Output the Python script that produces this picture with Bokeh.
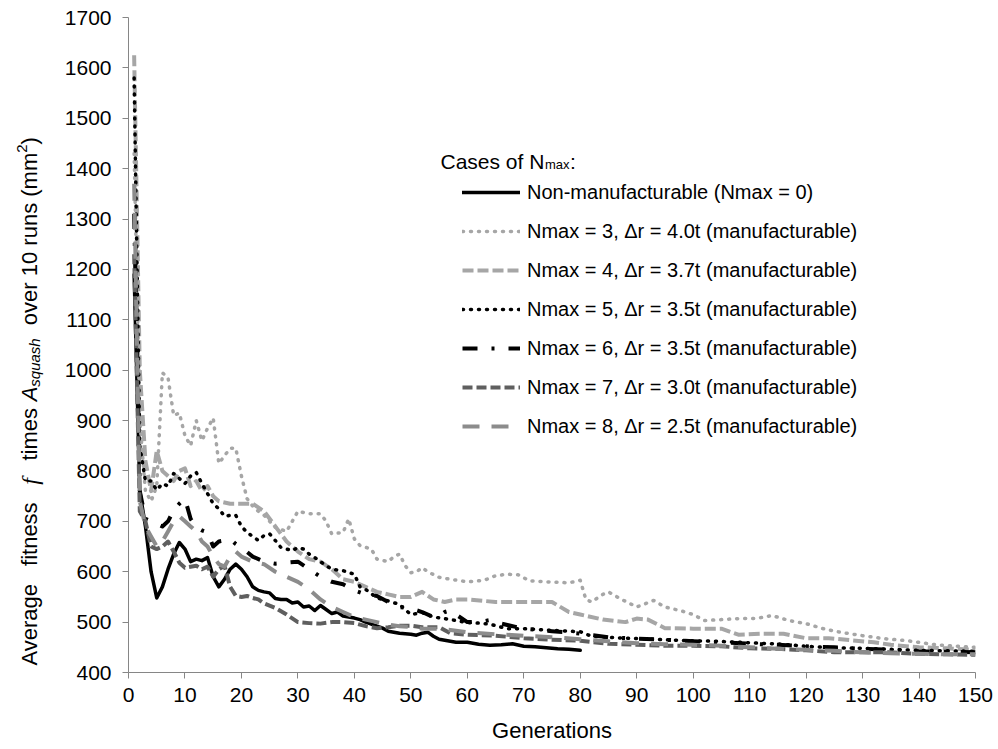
import math

from bokeh.embed import file_html
from bokeh.layouts import row
from bokeh.models import FixedTicker, Label, Legend, LegendItem, Range1d
from bokeh.plotting import figure
from bokeh.resources import INLINE

# ---- data: average fitness f * A_squash over 10 runs, per generation ----
n0_gen = [1, 2, 3, 4, 5, 6, 7, 8, 9, 10, 11, 12, 13, 14, 15, 16, 17, 18, 19, 20,
          21, 22, 23, 24, 25, 26, 27, 28, 29, 30, 31, 32, 33, 34, 35, 36, 37, 38, 39, 40,
          41, 42, 43, 44, 45, 46, 47, 48, 49, 50, 51, 52, 53, 54, 55, 56, 57, 58, 59, 60,
          62, 64, 66, 68, 70, 72, 74, 76, 78, 80]
n0_fit = [1190, 760, 690, 600, 548, 570, 605, 635, 658, 645, 620, 625, 622, 628, 590, 570, 585, 605, 615, 605,
          590, 570, 563, 560, 558, 547, 545, 545, 538, 540, 530, 532, 523, 533, 525, 517, 520, 512, 510, 508,
          505, 500, 496, 492, 488, 482, 480, 478, 477, 476, 474, 478, 480, 472, 466, 464, 462, 460, 460, 460,
          456, 454, 455, 457, 452, 451, 449, 447, 446, 444]

n3_gen = [1, 2, 3, 4, 5, 6, 7, 8, 9, 10, 11, 12, 13, 14, 15, 16, 17, 18, 19, 20, 21, 22, 23, 24,
          26, 28, 29, 30, 32, 34, 35, 36, 38, 39, 40, 41, 43, 44, 46, 47, 48, 49, 50, 51, 52, 53, 55, 57,
          60, 63, 65, 67, 69, 71, 74, 78, 80, 81, 82, 84, 85, 87, 90, 93, 95, 98, 100, 102, 105, 108,
          111, 114, 117, 120, 123, 126, 130, 134, 138, 143, 150]
n3_fit = [1430, 900, 760, 740, 770, 995, 985, 910, 915, 870, 850, 900, 860, 885, 905, 815, 830, 845, 845, 790, 745, 730, 720, 712,
          688, 680, 700, 720, 715, 715, 700, 675, 678, 705, 665, 652, 645, 625, 620, 630, 635, 612, 598, 600, 608, 600, 589, 585,
          580, 583, 592, 595, 594, 582, 580, 578, 583, 545, 540, 555, 560, 547, 530, 543, 530, 522, 515, 503, 505, 507,
          507, 513, 503, 497, 487, 480, 473, 467, 463, 455, 450]

n4_gen = [1, 2, 3, 4, 5, 6, 7, 8, 9, 10, 11, 12, 13, 14, 15, 16,
          18, 20, 22, 24, 26, 28, 30, 32, 34, 36, 38, 40, 42, 44, 46, 48, 50, 52, 54, 56, 58, 60,
          65, 70, 75, 78, 80, 84, 88, 90, 92, 95,
          100, 105, 108, 112, 116, 120, 124, 128, 132, 135, 140, 145, 150]
n4_fit = [1625, 1000, 820, 760, 840, 800, 790, 780, 800, 805, 770, 780, 760, 770, 750, 740,
          735, 735, 735, 720, 690, 660, 640, 625, 620, 605, 585, 580, 570, 560, 555, 550, 550, 560, 545, 540, 545, 545,
          540, 540, 540, 520, 515, 505, 500, 507, 505, 488,
          487, 487, 475, 477, 477, 468, 468, 464, 460, 455, 450, 448, 445]

n5_gen = [1, 2, 3, 4, 5, 6, 7, 8, 9, 10, 11, 12, 13, 14, 15, 16, 17, 18, 19, 20, 21, 22, 23, 24, 25, 26, 27,
          29, 30, 31, 32, 33, 34, 35, 36, 38, 40, 41, 42, 44, 46, 48, 50,
          52, 54, 56, 58, 60, 62, 64, 67, 70, 73, 76, 80, 82, 85, 88, 91,
          95, 100, 104, 108, 112, 116, 120, 125, 130, 135, 140, 145, 150]
n5_fit = [1580, 850, 780, 780, 762, 775, 770, 795, 785, 775, 790, 797, 775, 755, 735, 725, 710, 712, 712, 690, 678, 670, 662, 672, 675, 662, 648,
          642, 648, 645, 635, 628, 620, 612, 605, 602, 595, 570, 565, 548, 542, 535, 515,
          519, 510, 507, 503, 499, 498, 496, 487, 487, 485, 483, 481, 472, 470, 468, 467,
          465, 463, 462, 460, 458, 456, 452, 449, 448, 446, 444, 443, 442]

n6_gen = [1, 2, 3, 4, 5, 6, 7, 8, 9, 10, 11, 12, 13, 14, 15, 16, 17, 18, 19, 20,
          22, 24, 26, 28, 30, 32, 34, 36, 38, 40, 42, 44, 46, 48, 50, 52, 54,
          55, 56, 57, 58, 60, 62, 64, 66,
          70, 75, 80, 85, 90, 95, 100, 105, 110, 115, 120, 125, 130, 135, 140, 145, 150]
n6_fit = [1310, 760, 705, 700, 695, 690, 700, 722, 735, 745, 705, 688, 682, 678, 650, 660, 662, 665, 655, 648,
          630, 620, 616, 618, 620, 605, 590, 580, 575, 563, 555, 552, 540, 530, 527, 520, 510,
          512, 520, 523, 515, 500, 500, 504, 497,
          487, 482, 477, 470, 467, 465, 462, 460, 457, 455, 452, 450, 447, 445, 442, 441, 440]

n7_gen = [1, 2, 3, 4, 5, 6, 7, 8, 9, 10, 11, 12, 13, 14, 15, 16, 17, 18, 19, 20, 21, 22, 23, 24,
          26, 28, 30, 32, 34, 36, 38, 40, 42, 44, 46, 48, 50, 52, 55, 57, 60,
          65, 70, 75, 80, 85, 90, 95, 100, 105, 110, 115, 120, 125, 130, 135, 140, 145, 150]
n7_fit = [1230, 720, 700, 650, 645, 650, 660, 640, 618, 608, 610, 612, 605, 610, 590, 605, 612, 570, 552, 550, 552, 548, 545, 537,
          528, 515, 500, 498, 497, 500, 500, 498, 492, 488, 490, 493, 493, 490, 490, 478, 475,
          473, 468, 465, 463, 457, 455, 453, 453, 452, 448, 447, 444, 440, 440, 440, 437, 436, 435]

n8_gen = [1, 2, 3, 4, 5, 6, 7, 8, 9, 10, 11, 12, 13, 14, 15, 16, 17, 18, 19, 20,
          22, 24, 26, 28, 30, 32, 34, 36, 38, 40, 42, 44, 46, 48, 50, 52, 55, 58, 60,
          65, 70, 75, 80, 85, 90, 95, 100, 105, 110, 115, 120, 125, 130, 135, 140, 145, 150]
n8_fit = [1370, 740, 690, 670, 650, 660, 680, 700, 710, 700, 690, 680, 660, 650, 630, 615, 610, 630, 640, 630,
          620, 615, 600, 590, 580, 565, 545, 530, 520, 510, 505, 500, 495, 492, 490, 487, 487, 483, 480,
          476, 473, 470, 466, 462, 458, 456, 455, 453, 450, 447, 445, 443, 440, 438, 437, 436, 436]

series_labels = [
    "Non-manufacturable (Nmax = 0)",
    "Nmax = 3, \u0394r = 4.0t (manufacturable)",
    "Nmax = 4, \u0394r = 3.7t (manufacturable)",
    "Nmax = 5, \u0394r = 3.5t (manufacturable)",
    "Nmax = 6, \u0394r = 3.5t (manufacturable)",
    "Nmax = 7, \u0394r = 3.0t (manufacturable)",
    "Nmax = 8, \u0394r = 2.5t (manufacturable)",
]
x_ticks = list(range(0, 151, 10))
y_ticks = list(range(400, 1701, 100))

# ---- layout (pixels) ----
X0, X1 = 0, 150
Y0, Y1 = 400, 1700
TW = 50                       # strip on the left holding the rotated y title
FL, FT, FW, FH = 128, 17, 847, 655
FONT = "Liberation Sans"
AXIS_GRAY = "#868686"


def gx(px):
    return X0 + (px - FL) * (X1 - X0) / FW


def vy(py):
    return Y0 + (FT + FH - py) * (Y1 - Y0) / FH


p = figure(frame_width=FW, frame_height=FH,
           min_border_left=FL - TW, min_border_right=998 - FL - FW,
           min_border_top=FT, min_border_bottom=749 - FT - FH,
           x_range=Range1d(X0, X1), y_range=Range1d(Y0, Y1),
           output_backend="svg", toolbar_location=None,
           background_fill_color="white", border_fill_color="white")
p.outline_line_color = None
p.grid.visible = False

for ax in (p.xaxis, p.yaxis):
    ax.axis_line_color = AXIS_GRAY
    ax.axis_line_width = 1
    ax.major_tick_line_color = AXIS_GRAY
    ax.major_tick_in = 0
    ax.major_tick_out = 6
    ax.minor_tick_line_color = None
    ax.major_label_text_font = FONT
    ax.major_label_text_font_size = "21px"
    ax.major_label_text_color = "#000000"

p.xaxis.ticker = FixedTicker(ticks=x_ticks)
p.yaxis.ticker = FixedTicker(ticks=y_ticks)
p.xaxis.major_label_standoff = 9
p.yaxis.major_label_standoff = 11
p.xaxis.axis_label = "Generations"
p.xaxis.axis_label_text_font = FONT
p.xaxis.axis_label_text_font_size = "22px"
p.xaxis.axis_label_text_font_style = "normal"
p.xaxis.axis_label_text_color = "#000000"
p.xaxis.axis_label_standoff = 13

# ---- series ----
styles = [
    dict(color="#000000", width=3.5, dash="solid", cap="round"),
    dict(color="#a6a6a6", width=3.5, dash="1 7", cap="round"),
    dict(color="#a6a6a6", width=4, dash="11 4", cap="butt"),
    dict(color="#000000", width=3.5, dash="1 7", cap="round"),
    dict(color="#000000", width=4, dash="15 14 3 14", cap="butt"),
    dict(color="#5f5f5f", width=4, dash="10 4", cap="butt"),
    dict(color="#8c8c8c", width=4, dash="17 12", cap="butt"),
]
data = [(n0_gen, n0_fit), (n3_gen, n3_fit), (n4_gen, n4_fit), (n5_gen, n5_fit),
        (n6_gen, n6_fit), (n7_gen, n7_fit), (n8_gen, n8_fit)]

items = []
for (gens, fits), st, lab in zip(data, styles, series_labels):
    r = p.line(gens, fits, line_color=st["color"], line_width=st["width"],
               line_dash=st["dash"], line_cap=st["cap"], line_join="round")
    items.append(LegendItem(label=lab, renderers=[r]))

legend = Legend(items=items, location=(462 - FL, (FT + FH) - 438),
                glyph_width=58, glyph_height=24, label_height=24, spacing=15,
                label_standoff=7, padding=0, margin=0,
                border_line_alpha=0, background_fill_alpha=0,
                label_text_font=FONT, label_text_font_size="20px",
                label_text_color="#000000")
p.add_layout(legend)

# legend heading with subscript
p.add_layout(Label(x=gx(440), y=vy(161), text="Cases of N", text_font=FONT,
                   text_font_size="21px", text_color="#000000", text_baseline="alphabetic"))
p.add_layout(Label(x=gx(544.5), y=vy(164), text="max", text_font=FONT,
                   text_font_size="13px", text_color="#000000", text_baseline="alphabetic"))
p.add_layout(Label(x=gx(569.5), y=vy(161), text=":", text_font=FONT,
                   text_font_size="21px", text_color="#000000", text_baseline="alphabetic"))

# ---- rotated y-axis title, drawn in a narrow strip left of the chart ----
tfig = figure(frame_width=TW, frame_height=749, min_border=0,
              x_range=Range1d(0, TW), y_range=Range1d(749, 0),
              x_axis_type=None, y_axis_type=None,
              output_backend="svg", toolbar_location=None,
              background_fill_color="white", border_fill_color="white")
tfig.outline_line_color = None

ADV = {' ': 278, 'A': 667, 'v': 500, 'e': 556, 'r': 333, 'a': 556, 'g': 556, 'f': 278,
       'i': 222, 't': 278, 'n': 556, 's': 500, 'm': 833, 'q': 556, 'u': 556, 'h': 556,
       'o': 556, '1': 556, '0': 556, '(': 333, ')': 333, '2': 556}


def text_len(s, size):
    return sum(ADV.get(c, 556) for c in s) * size / 1000.0


YS = 22
SUB = 15
pieces = [
    ("Average", FONT, "normal", YS, 0, 0.0),
    ("fitness", FONT, "normal", YS, 0, 0.8),
    ("f", "Liberation Serif", "italic", YS + 2, 0, 0.8),
    ("times", FONT, "normal", YS, 0, 0.8),
    ("A", FONT, "italic", YS, 0, 0.3),
    ("squash", FONT, "italic", SUB, 5, 0.0),
    ("over 10 runs (mm", FONT, "normal", YS, 0, 0.6),
    ("2", FONT, "normal", SUB, -8, 0.0),
    (")", FONT, "normal", YS, 0, 0.0),
]
base_x = 29
pos = 648.0
for txt, fnt, sty, size, shift, gap_em in pieces:
    pos -= gap_em * YS
    tfig.add_layout(Label(x=base_x + shift, y=pos, text=txt, angle=math.pi / 2,
                          text_font=fnt, text_font_style=sty, text_font_size=f"{size}px",
                          text_color="#000000", text_align="left", text_baseline="alphabetic"))
    pos -= text_len(txt, size)

layout = row(tfig, p)
open("out.html", "w").write(file_html(layout, INLINE))
